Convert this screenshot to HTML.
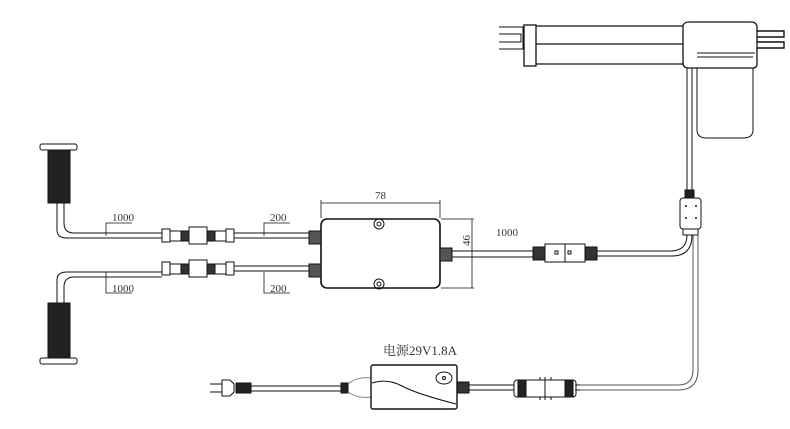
<!DOCTYPE html><html><head><meta charset="utf-8"><style>body{margin:0;background:#fff}svg{display:block}text{font-family:"Liberation Serif","Noto Serif CJK SC",serif}</style></head><body>
<svg width="790" height="429" viewBox="0 0 790 429" xmlns="http://www.w3.org/2000/svg" fill="none" stroke="#111" stroke-width="1">
<!-- actuator -->
<path d="M499 27h24v22h-24M499 34h22v8h-22"/>
<rect x="524" y="25" width="12" height="41" stroke-width="1.3"/>
<path d="M536 26h147M536 44h147M536 64h147" stroke-width="1.2"/>
<path d="M683 25q2-3 6-3h62q5 0 6 4v38q0 4-4 4h-64q-6 0-6-5z" stroke-width="1.3"/>
<path d="M697 53h58M697 57h56" />
<path d="M697 68v62q0 8 10 8h36q10 0 10-8v-62"/>
<path d="M757 31h27v6h-27M757 42h27v6h-27" stroke-width="1.4"/>
<!-- actuator cable -->
<path d="M687 68v126M692 68v126"/>
<rect x="685" y="190" width="9" height="8" fill="#222"/>
<rect x="680" y="198" width="21" height="31" rx="3"/>
<g fill="#111" stroke="none"><circle cx="686" cy="206" r="1"/><circle cx="696" cy="206" r="1"/><circle cx="686" cy="218" r="1"/><circle cx="696" cy="218" r="1"/></g>
<rect x="683" y="229" width="15" height="6"/>
<path d="M687 235q0 15-15 16h-76M692 235q0 21-20 21h-76"/>
<path d="M693 235v135q0 15-15 15h-103M698 235v135q0 20-20 20h-103" stroke="#555"/>
<!-- right connector -->
<rect x="585" y="247" width="12" height="13" fill="#333"/>
<rect x="533" y="247" width="12" height="13" fill="#333"/>
<rect x="545" y="244" width="40" height="18"/>
<path d="M565 244v18"/>
<rect x="555" y="251" width="3" height="3"/><rect x="568" y="251" width="3" height="3"/>
<path d="M440 251h93M440 257h93"/>
<!-- control box -->
<rect x="321" y="219" width="119" height="69" rx="6" stroke-width="1.6"/>
<circle cx="379" cy="224" r="5"/><circle cx="379" cy="224" r="2"/>
<circle cx="379" cy="284" r="5"/><circle cx="379" cy="284" r="2"/>
<rect x="440" y="248" width="12" height="13" fill="#555"/>
<rect x="309" y="231" width="12" height="13" fill="#555"/>
<rect x="309" y="264" width="12" height="13" fill="#555"/>
<path d="M321 200v18M440 200v18M321 203h119M441 219h33M441 288h33M472 219v69" stroke-width="0.8"/>
<!-- left cables -->
<path d="M57 203v27q0 8 10 8h95M64 203v20q0 10 10 10h88" />
<path d="M57 358v-78q0-8 10-8h95M64 358v-71q0-10 10-10h88" />
<g id="c1">
<rect x="162" y="229" width="8" height="13"/>
<rect x="170" y="231" width="11" height="10"/>
<rect x="181" y="231" width="8" height="10" fill="#333"/>
<rect x="189" y="227" width="18" height="17"/>
<rect x="207" y="231" width="8" height="10" fill="#333"/>
<rect x="215" y="231" width="11" height="10"/>
<rect x="226" y="229" width="8" height="13"/>
</g>
<use href="#c1" transform="translate(0,33)"/>
<path d="M234 233h75M234 238h75M234 266h75M234 271h75"/>
<!-- handsets -->
<rect x="40" y="144" width="37" height="6" rx="2"/>
<rect x="48" y="150" width="22" height="53" fill="#222"/>
<rect x="48" y="303" width="22" height="55" fill="#222"/>
<rect x="40" y="358" width="37" height="6" rx="2"/>
<!-- dims -->
<path d="M106 236v-13h26M264 236v-13h26M106 272v21h26M264 272v21h26" stroke-width="0.8"/>
<!-- power -->
<path d="M210 384h12M210 392h12"/>
<path d="M222 380h8l4 4v8l-4 4h-8z"/>
<rect x="236" y="383" width="15" height="10" fill="#222"/>
<path d="M251 386h90M251 391h90"/>
<rect x="341" y="383" width="7" height="10" fill="#222"/>
<path d="M348 384q10-8 23-6M348 392q10 7 23 5" stroke="#888"/>
<rect x="371" y="365" width="86" height="44" rx="2" stroke-width="1.4"/>
<path d="M372 383q15-5 30 3t54 18"/>
<ellipse cx="444" cy="378" rx="8" ry="6"/><circle cx="444" cy="378" r="1.5"/>
<rect x="457" y="382" width="12" height="11" fill="#333"/>
<path d="M469 385h45M469 390h45"/>
<rect x="514" y="380" width="62" height="17" rx="3"/>
<rect x="518" y="380" width="8" height="17" fill="#222"/><rect x="565" y="380" width="8" height="17" fill="#222"/>
<path d="M545 377v23M540 377v3M551 377v3M540 397v3M551 397v3"/>
<path d="M576 385h4M576 390h4"/>
<g fill="#333" stroke="none" font-size="11">
<text x="112" y="221">1000</text><text x="270" y="221">200</text>
<text x="112" y="292">1000</text><text x="270" y="292">200</text>
<text x="496" y="236">1000</text>
<text x="375" y="199">78</text>
<text transform="translate(470,246) rotate(-90)">46</text>
<text x="383" y="355" font-size="13">电源29V1.8A</text>
</g>
</svg></body></html>
